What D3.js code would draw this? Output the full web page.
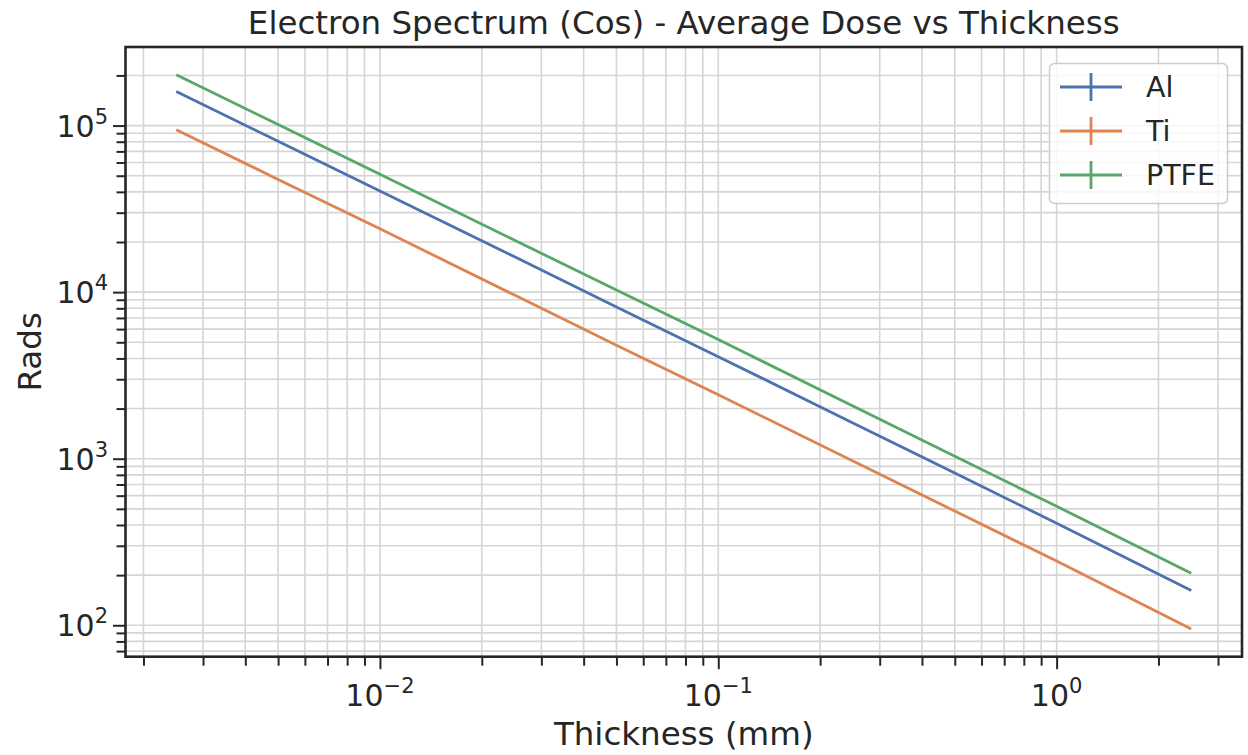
<!DOCTYPE html>
<html>
<head>
<meta charset="utf-8">
<script src="https://cdn.jsdelivr.net/npm/d3@7"></script>
<style>
  html, body { margin: 0; padding: 0; background: #ffffff; }
  svg { display: block; font-family: "DejaVu Sans", sans-serif; }
</style>
</head>
<body>
<svg id="chart" width="1248" height="755"></svg>
<script>
// ---- data ----
const thickness = [0.0025, 0.005, 0.01, 0.025, 0.05, 0.1, 0.25, 0.5, 1.0, 2.5];
const doseAl   = [160000, 80500, 40500, 16300, 8150, 4100, 1640, 820, 410, 162];
const doseTi   = [94500, 47500, 24000, 9600, 4800, 2420, 970, 485, 243, 95];
const dosePTFE = [202000, 101500, 51000, 20500, 10300, 5200, 2070, 1035, 518, 205];
const seriesNames = ["Al", "Ti", "PTFE"];
const seriesColors = ["#4c72b0", "#dd8452", "#55a868"];
const xMajorTicks = [0.01, 0.1, 1];
const xTickExp = ["−2", "−1", "0"];
const yMajorTicks = [100, 1000, 10000, 100000];
const yTickExp = ["2", "3", "4", "5"];
const titleText = "Electron Spectrum (Cos) - Average Dose vs Thickness";
const xLabelText = "Thickness (mm)";
const yLabelText = "Rads";

const series = [doseAl, doseTi, dosePTFE];

// ---- layout ----
const svg = d3.select("#chart");
const L = 125.5, R = 1242, T = 47, B = 656.7;
const ink = "#262626";

function logDomain(vals, frac) {
  const lo = Math.log10(d3.min(vals)), hi = Math.log10(d3.max(vals));
  const m = (hi - lo) * frac;
  return [Math.pow(10, lo - m), Math.pow(10, hi + m)];
}
const allY = [].concat(...series);
const x = d3.scaleLog().domain(logDomain(thickness, 0.05)).range([L, R]);
const y = d3.scaleLog().domain(logDomain(allY, 0.05)).range([B, T]);

// minor tick values
function minorTicks(scale) {
  const [a, b] = scale.domain();
  const out = [];
  for (let e = Math.floor(Math.log10(a)); e <= Math.ceil(Math.log10(b)); e++) {
    for (let k = 1; k <= 9; k++) {
      const v = k * Math.pow(10, e);
      if (v >= a && v <= b) out.push(v);
    }
  }
  return out;
}
const xAll = minorTicks(x);
const yAll = minorTicks(y);
const isMajor = v => Math.abs(Math.log10(v) - Math.round(Math.log10(v))) < 1e-9;

// ---- grid ----
const grid = svg.append("g").attr("stroke", "#d5d5d5").attr("stroke-width", 1.6);
grid.selectAll("line.gx").data(xAll).join("line")
  .attr("x1", d => x(d)).attr("x2", d => x(d)).attr("y1", T).attr("y2", B);
grid.selectAll("line.gy").data(yAll).join("line")
  .attr("y1", d => y(d)).attr("y2", d => y(d)).attr("x1", L).attr("x2", R);

// ---- lines ----
const line = d3.line().x((d, i) => x(thickness[i])).y(d => y(d));
svg.append("g").selectAll("path").data(series).join("path")
  .attr("d", d => line(d))
  .attr("fill", "none")
  .attr("stroke", (d, i) => seriesColors[i])
  .attr("stroke-width", 2.8);

// ---- axes (d3 axes, styled) ----
const xAxis = d3.axisBottom(x).tickValues(xAll).tickSize(0).tickFormat("");
const gx = svg.append("g").attr("transform", `translate(0,${B})`).call(xAxis);
gx.select(".domain").remove();
gx.selectAll(".tick line")
  .attr("y2", d => isMajor(d) ? 12.5 : 9)
  .attr("stroke", ink).attr("stroke-width", 2);

const yAxis = d3.axisLeft(y).tickValues(yAll).tickSize(0).tickFormat("");
const gy = svg.append("g").attr("transform", `translate(${L},0)`).call(yAxis);
gy.select(".domain").remove();
gy.selectAll(".tick line")
  .attr("x2", d => isMajor(d) ? -12.5 : -9)
  .attr("stroke", ink).attr("stroke-width", 2);

// major tick labels
const xl = svg.append("g").selectAll("text").data(xMajorTicks).join("text")
  .attr("x", d => x(d)).attr("y", 706)
  .attr("text-anchor", "middle").attr("fill", ink).attr("font-size", 30);
xl.append("tspan").text("10");
xl.append("tspan").attr("dy", -13).attr("font-size", 21).text((d, i) => xTickExp[i]);

const yl = svg.append("g").selectAll("text").data(yMajorTicks).join("text")
  .attr("x", 108).attr("y", d => y(d) + 11)
  .attr("text-anchor", "end").attr("fill", ink).attr("font-size", 30);
yl.append("tspan").text("10");
yl.append("tspan").attr("dy", -13).attr("font-size", 21).text((d, i) => yTickExp[i]);

// frame
svg.append("rect").attr("x", L).attr("y", T).attr("width", R - L).attr("height", B - T)
  .attr("fill", "none").attr("stroke", ink).attr("stroke-width", 2.6);

// ---- titles ----
svg.append("text").attr("x", (L + R) / 2).attr("y", 34)
  .attr("text-anchor", "middle").attr("fill", ink).attr("font-size", 32.5).text(titleText);
svg.append("text").attr("x", (L + R) / 2).attr("y", 745)
  .attr("text-anchor", "middle").attr("fill", ink).attr("font-size", 32.5).text(xLabelText);
svg.append("text").attr("transform", `translate(41,${(T + B) / 2}) rotate(-90)`)
  .attr("text-anchor", "middle").attr("fill", ink).attr("font-size", 32.5).text(yLabelText);

// ---- legend ----
const lg = svg.append("g");
lg.append("rect").attr("x", 1049.5).attr("y", 63.5).attr("width", 178).attr("height", 140)
  .attr("rx", 5).attr("fill", "#ffffff").attr("fill-opacity", 0.8)
  .attr("stroke", "#cccccc").attr("stroke-width", 1.5);
const items = lg.selectAll("g.item").data(seriesNames).join("g")
  .attr("transform", (d, i) => `translate(0,${87 + i * 44})`);
items.append("line").attr("x1", 1060).attr("x2", 1122).attr("y1", 0).attr("y2", 0)
  .attr("stroke", (d, i) => seriesColors[i]).attr("stroke-width", 2.8);
items.append("line").attr("x1", 1091).attr("x2", 1091).attr("y1", -14).attr("y2", 14)
  .attr("stroke", (d, i) => seriesColors[i]).attr("stroke-width", 2.8);
items.append("text").attr("x", 1146).attr("y", 10).attr("fill", ink)
  .attr("font-size", 28.5).text(d => d);
</script>
</body>
</html>
